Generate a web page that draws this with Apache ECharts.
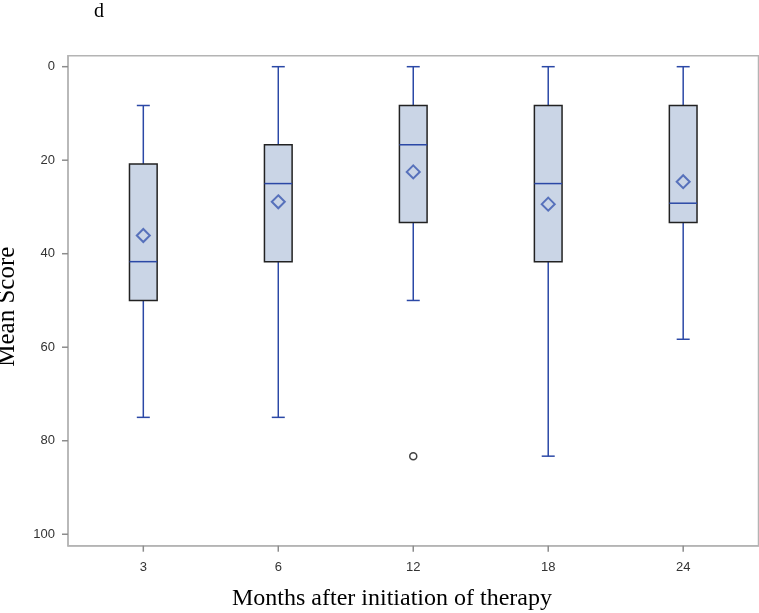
<!DOCTYPE html>
<html><head><meta charset="utf-8">
<script src="https://cdn.jsdelivr.net/npm/echarts@6/dist/echarts.min.js"></script>
<style>html,body{margin:0;padding:0;background:#fff}#c{width:759px;height:613px}</style>
</head><body><div id="c"></div>
<script>
// Data (y axis is reversed: 0 at the top)
const categories = ['3', '6', '12', '18', '24'];
const whiskerLow = [8.3, 0, 0, 0, 0];
const q1 = [20.8, 16.7, 8.3, 8.3, 8.3];
const medians = [41.7, 25, 16.7, 25, 29.2];
const q3 = [50, 41.7, 33.3, 41.7, 33.3];
const whiskerHigh = [75, 75, 50, 83.3, 58.3];
const means = [36.1, 28.9, 22.5, 29.4, 24.6];
const outlierCats = ['12'];
const outlierVals = [83.3];
const yTicks = [0, 20, 40, 60, 80, 100];

// axis extents (padding of the frame around the data range)
const X_MIN = -0.558, X_MAX = 4.558;
const Y_MIN = -2.35, Y_MAX = 102.45;

const BLUE = '#2B48A6';
const BOXFILL = '#CAD5E6';
const FRAME = '#B4B4B4';
const TICK = '#8C8C8C';

const xPos = categories.map((c, i) => i);
const boxData = categories.map((c, i) => [i, whiskerLow[i], q1[i], medians[i], q3[i], whiskerHigh[i]]);
const meanData = categories.map((c, i) => [i, means[i]]);
const outlierData = outlierCats.map((c, i) => [categories.indexOf(c), outlierVals[i]]);
const yTickData = yTicks.map(v => [X_MIN, v]);
const xTickData = xPos.map(v => [v, Y_MAX]);

function renderBox(params, api) {
  const x = api.value(0);
  const pLo = api.coord([x, api.value(1)]);
  const pQ1 = api.coord([x, api.value(2)]);
  const pMed = api.coord([x, api.value(3)]);
  const pQ3 = api.coord([x, api.value(4)]);
  const pHi = api.coord([x, api.value(5)]);
  const band = api.size([1, 0])[0];
  const bw = band * 0.205;
  const cw = 13;
  const cx = pQ1[0];
  const ws = { stroke: BLUE, lineWidth: 1.5 };
  return {
    type: 'group',
    children: [
      { type: 'line', shape: { x1: cx, y1: pLo[1], x2: cx, y2: pQ1[1] }, style: ws },
      { type: 'line', shape: { x1: cx - cw / 2, y1: pLo[1], x2: cx + cw / 2, y2: pLo[1] }, style: ws },
      { type: 'line', shape: { x1: cx, y1: pQ3[1], x2: cx, y2: pHi[1] }, style: ws },
      { type: 'line', shape: { x1: cx - cw / 2, y1: pHi[1], x2: cx + cw / 2, y2: pHi[1] }, style: ws },
      { type: 'rect', shape: { x: cx - bw / 2, y: Math.min(pQ1[1], pQ3[1]), width: bw, height: Math.abs(pQ3[1] - pQ1[1]) },
        style: { fill: BOXFILL, stroke: '#222', lineWidth: 1.5 } },
      { type: 'line', shape: { x1: cx - bw / 2, y1: pMed[1], x2: cx + bw / 2, y2: pMed[1] }, style: { stroke: BLUE, lineWidth: 1.5 } }
    ]
  };
}
function renderYTick(params, api) {
  const p = api.coord([api.value(0), api.value(1)]);
  return { type: 'line', shape: { x1: p[0] - 6, y1: p[1], x2: p[0], y2: p[1] }, style: { stroke: TICK, lineWidth: 1.5 } };
}
function renderXTick(params, api) {
  const p = api.coord([api.value(0), api.value(1)]);
  return { type: 'line', shape: { x1: p[0], y1: p[1], x2: p[0], y2: p[1] + 6 }, style: { stroke: TICK, lineWidth: 1.5 } };
}

const chart = echarts.init(document.getElementById('c'), null, { renderer: 'canvas' });
chart.setOption({
  animation: false,
  backgroundColor: '#fff',
  title: [
    { text: 'd', left: 94, top: 1, padding: 0,
      textStyle: { fontFamily: 'Liberation Serif', fontSize: 20, fontWeight: 'normal', color: '#000', lineHeight: 22 } },
    { text: 'Months after initiation of therapy', left: 232, top: 586, padding: 0,
      textStyle: { fontFamily: 'Liberation Serif', fontSize: 24, fontWeight: 'normal', color: '#000', lineHeight: 26 } }
  ],
  grid: {
    left: 68, right: 0.5, top: 55.7, bottom: 67.3, containLabel: false, outerBoundsMode: 'none',
    show: true, borderColor: FRAME, borderWidth: 1.5, backgroundColor: 'transparent'
  },
  xAxis: {
    type: 'value', min: X_MIN, max: X_MAX,
    axisLine: { show: true, onZero: false, lineStyle: { color: FRAME, width: 1.5 } },
    axisTick: { show: false },
    axisLabel: { color: '#333', fontSize: 13, fontFamily: 'Liberation Sans', margin: 15,
      customValues: xPos, formatter: v => categories[Math.round(v)] },
    splitLine: { show: false }
  },
  yAxis: {
    type: 'value', inverse: true, min: Y_MIN, max: Y_MAX,
    axisLine: { show: true, onZero: false, lineStyle: { color: FRAME, width: 1.5 } },
    axisTick: { show: false },
    axisLabel: { color: '#333', fontSize: 13, fontFamily: 'Liberation Sans', margin: 13, customValues: yTicks },
    splitLine: { show: false },
    name: 'Mean Score', nameLocation: 'middle', nameGap: 48,
    nameTextStyle: { fontFamily: 'Liberation Serif', fontSize: 25, color: '#000', padding: [0, 12, 0, 0] }
  },
  series: [
    { type: 'custom', data: boxData, renderItem: renderBox,
      encode: { x: 0, y: [1, 2, 3, 4, 5] }, z: 2 },
    { type: 'custom', data: yTickData, renderItem: renderYTick, clip: false, silent: true,
      encode: { x: 0, y: 1 }, z: 5 },
    { type: 'custom', data: xTickData, renderItem: renderXTick, clip: false, silent: true,
      encode: { x: 0, y: 1 }, z: 5 },
    { type: 'scatter', data: meanData, symbol: 'diamond', symbolSize: 13,
      itemStyle: { color: 'rgba(0,0,0,0)', borderColor: '#3A58B0', borderWidth: 2 }, z: 3 },
    { type: 'scatter', data: outlierData, symbol: 'circle', symbolSize: 7,
      itemStyle: { color: '#fff', borderColor: '#111', borderWidth: 1.5 }, z: 3 }
  ]
});
</script></body></html>
